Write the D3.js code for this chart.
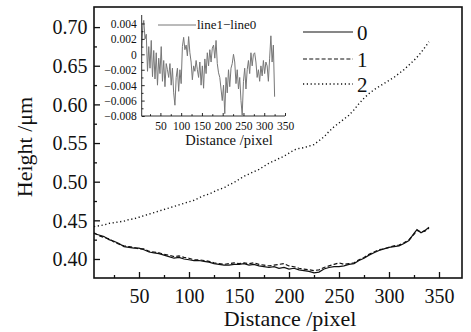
<!DOCTYPE html>
<html>
<head>
<meta charset="utf-8">
<script src="https://cdn.jsdelivr.net/npm/d3@7"></script>
<style>
  body { margin: 0; background: #fff; }
  svg { display: block; }
</style>
</head>
<body>
<div id="chart"></div>
<script>
window.addEventListener('DOMContentLoaded', () => {

    // ---- data ----
    const distance = [5, 10, 15, 20, 25, 30, 35, 40, 45, 50, 55, 60, 65, 70, 75, 80, 85, 90, 95, 100,
        105, 110, 115, 120, 125, 130, 135, 140, 145, 150, 155, 160, 165, 170, 175, 180, 185, 190, 195, 200,
        205, 210, 215, 220, 225, 230, 235, 240, 245, 250, 255, 260, 265, 270, 275, 280, 285, 290, 295, 300,
        305, 310, 315, 320, 325, 328, 332, 336, 340];

    const line0 = [0.433, 0.431, 0.429, 0.425, 0.423, 0.420, 0.416, 0.415, 0.414, 0.414, 0.412, 0.409, 0.408, 0.407, 0.405, 0.403, 0.401, 0.402, 0.400, 0.399,
        0.398, 0.398, 0.397, 0.396, 0.394, 0.393, 0.392, 0.392, 0.393, 0.393, 0.394, 0.392, 0.393, 0.391, 0.390, 0.389, 0.390, 0.388, 0.389, 0.387,
        0.388, 0.386, 0.385, 0.384, 0.382, 0.383, 0.387, 0.389, 0.390, 0.390, 0.391, 0.393, 0.394, 0.398, 0.401, 0.405, 0.408, 0.411, 0.413, 0.415,
        0.416, 0.417, 0.420, 0.424, 0.433, 0.438, 0.434, 0.437, 0.441];

    const line1 = [0.434, 0.430, 0.428, 0.426, 0.422, 0.419, 0.417, 0.416, 0.415, 0.413, 0.413, 0.410, 0.409, 0.408, 0.406, 0.405, 0.403, 0.404, 0.402, 0.401,
        0.399, 0.399, 0.398, 0.397, 0.395, 0.394, 0.393, 0.394, 0.395, 0.394, 0.395, 0.394, 0.395, 0.393, 0.392, 0.391, 0.392, 0.393, 0.394, 0.391,
        0.390, 0.388, 0.387, 0.386, 0.385, 0.386, 0.389, 0.391, 0.393, 0.395, 0.393, 0.394, 0.395, 0.399, 0.402, 0.406, 0.409, 0.412, 0.413, 0.415,
        0.417, 0.418, 0.421, 0.425, 0.432, 0.437, 0.435, 0.436, 0.440];

    const line2 = [0.442, 0.443, 0.444, 0.446, 0.447, 0.448, 0.449, 0.451, 0.452, 0.454, 0.456, 0.458, 0.460, 0.462, 0.464, 0.466, 0.468, 0.470, 0.472, 0.474,
        0.476, 0.479, 0.482, 0.484, 0.487, 0.490, 0.492, 0.496, 0.499, 0.503, 0.507, 0.510, 0.513, 0.516, 0.520, 0.524, 0.527, 0.530, 0.533, 0.537,
        0.541, 0.543, 0.544, 0.546, 0.548, 0.553, 0.558, 0.565, 0.571, 0.576, 0.581, 0.586, 0.593, 0.601, 0.608, 0.614, 0.619, 0.623, 0.627, 0.631,
        0.635, 0.640, 0.645, 0.651, 0.657, 0.661, 0.667, 0.674, 0.681];

    const seriesNames = ['0', '1', '2'];

    // inset: line1 - line0
    const insetDistance = [5, 8, 10, 13, 16, 19, 22, 25, 28, 31, 34, 37, 40, 43, 46, 49, 52, 55, 58, 61,
        64, 67, 70, 73, 76, 79, 82, 85, 88, 91, 94, 97, 100, 103, 106, 109, 112, 115, 118, 121,
        124, 127, 130, 133, 136, 139, 142, 145, 148, 151, 154, 157, 160, 163, 166, 169, 172, 175, 178, 181,
        184, 187, 190, 193, 196, 199, 202, 205, 208, 211, 214, 217, 220, 223, 226, 229, 232, 235, 238, 241,
        244, 247, 250, 253, 256, 259, 262, 265, 268, 271, 274, 277, 280, 283, 286, 289, 292, 295, 298, 301,
        304, 307, 310, 313, 316, 319, 322, 325];
    const insetDiff = [0.0010, 0.0038, 0.0044, 0.0020, 0.0026, -0.0022, 0.0010, -0.0018, 0.0018, -0.0029, 0.0005, -0.0032, 0.0002, -0.0040, -0.0005, -0.0025, 0.0010, -0.0035, -0.0008, -0.0042,
        -0.0012, -0.0020, -0.0030, -0.0012, -0.0040, -0.0018, -0.0050, -0.0066, -0.0030, -0.0018, -0.0048, -0.0020, -0.0038, 0.0010, 0.0022, 0.0006, 0.0012, -0.0002, 0.0023, 0.0002,
        -0.0010, -0.0033, -0.0015, -0.0022, -0.0008, -0.0020, -0.0030, -0.0010, -0.0040, -0.0015, -0.0044, -0.0006, -0.0025, 0.0002, -0.0015, 0.0006, -0.0010, 0.0008, 0.0012, -0.0005,
        0.0018, -0.0012, -0.0024, -0.0030, -0.0045, -0.0060, -0.0040, -0.0077, -0.0030, -0.0050, -0.0020, -0.0042, -0.0018, -0.0012, 0.0000, -0.0010, -0.0038, -0.0020, -0.0045, -0.0030,
        -0.0060, -0.0079, -0.0035, -0.0018, -0.0045, -0.0020, -0.0008, -0.0025, 0.0002, -0.0015, 0.0000, 0.0002, -0.0010, -0.0030, -0.0020, -0.0035, -0.0015, -0.0028, -0.0008, -0.0025,
        -0.0010, -0.0015, -0.0035, -0.0005, 0.0024, -0.0010, 0.0012, -0.0055];

    const xTicks = [50, 100, 150, 200, 250, 300, 350];
    const xMinor = [25, 75, 125, 175, 225, 275, 325];
    const yTicks = [0.40, 0.45, 0.50, 0.55, 0.60, 0.65, 0.70];
    const yMinor = [0.425, 0.475, 0.525, 0.575, 0.625, 0.675];
    const insetXTicks = [50, 100, 150, 200, 250, 300, 350];
    const insetXMinor = [25, 75, 125, 175, 225, 275, 325];
    const insetYTicks = [-0.008, -0.006, -0.004, -0.002, 0, 0.002, 0.004];
    const insetYMinor = [-0.007, -0.005, -0.003, -0.001, 0.001, 0.003];

    const FONT = '"Liberation Serif", "DejaVu Serif", serif';
    const width = 471;
    const height = 332;
    const plot = { left: 94, right: 462, top: 7, bottom: 278 };

    const svg = d3.select('#chart')
        .append('svg')
        .attr('width', width)
        .attr('height', height)
        .style('font-family', FONT);

    const x = d3.scaleLinear().domain([5, 373]).range([plot.left, plot.right]);
    const y = d3.scaleLinear().domain([0.3754, 0.726]).range([plot.bottom, plot.top]);

    // frame
    svg.append('rect')
        .attr('x', plot.left)
        .attr('y', plot.top)
        .attr('width', plot.right - plot.left)
        .attr('height', plot.bottom - plot.top)
        .attr('fill', 'none')
        .attr('stroke', '#111')
        .attr('stroke-width', 1.6);

    function styleAxis(g, size) {
        g.attr('font-family', null);
        g.select('.domain').remove();
        g.selectAll('line').attr('stroke', '#111').attr('stroke-width', 1.3);
        g.selectAll('text')
            .style('font-family', FONT)
            .style('font-size', size + 'px')
            .attr('fill', '#111');
    }

    // x axis
    svg.append('g')
        .attr('transform', `translate(0, ${plot.bottom})`)
        .call(d3.axisBottom(x).tickValues(xTicks).tickSize(-6).tickPadding(0).tickFormat(d3.format('d')))
        .call(g => styleAxis(g, 20))
        .call(g => g.selectAll('text').attr('dy', null).attr('y', 25));
    svg.append('g')
        .attr('transform', `translate(0, ${plot.bottom})`)
        .call(d3.axisBottom(x).tickValues(xMinor).tickSize(-3).tickFormat(''))
        .call(g => styleAxis(g, 20));

    // y axis
    svg.append('g')
        .attr('transform', `translate(${plot.left}, 0)`)
        .call(d3.axisLeft(y).tickValues(yTicks).tickSize(-6).tickPadding(6.5).tickFormat(d3.format('.2f')))
        .call(g => styleAxis(g, 20))
        .call(g => g.selectAll('text').attr('dy', '0.34em'));
    svg.append('g')
        .attr('transform', `translate(${plot.left}, 0)`)
        .call(d3.axisLeft(y).tickValues(yMinor).tickSize(-3).tickFormat(''))
        .call(g => styleAxis(g, 20));

    // axis titles
    svg.append('text')
        .attr('x', 290)
        .attr('y', 326)
        .attr('text-anchor', 'middle')
        .style('font-family', FONT)
        .style('font-size', '22px')
        .attr('fill', '#111')
        .text('Distance /pixel');

    svg.append('text')
        .attr('transform', `translate(32, 147) rotate(-90)`)
        .attr('text-anchor', 'middle')
        .style('font-family', FONT)
        .style('font-size', '22px')
        .attr('fill', '#111')
        .text('Height /μm');

    // series
    const dashes = [null, '4,2.2', '1.2,2.6'];
    const allSeries = [line0, line1, line2];

    const line = d3.line()
        .x(d => x(d[0]))
        .y(d => y(d[1]));

    allSeries.forEach((vals, i) => {
        svg.append('path')
            .datum(distance.map((dx, j) => [dx, vals[j]]))
            .attr('fill', 'none')
            .attr('stroke', '#111')
            .attr('stroke-width', i === 2 ? 1.4 : 1.2)
            .attr('stroke-dasharray', dashes[i])
            .attr('d', line);
    });

    // legend
    const legendY = [32, 59, 84];
    seriesNames.forEach((name, i) => {
        svg.append('line')
            .attr('x1', 303).attr('x2', 353)
            .attr('y1', legendY[i]).attr('y2', legendY[i])
            .attr('stroke', '#111')
            .attr('stroke-width', i === 2 ? 1.4 : 1.2)
            .attr('stroke-dasharray', dashes[i]);
        svg.append('text')
            .attr('x', 357)
            .attr('y', legendY[i] + 8)
            .style('font-family', FONT)
            .style('font-size', '21px')
            .attr('fill', '#111')
            .text(name);
    });

    // ---- inset ----
    const inset = { left: 141.7, right: 285, top: 15, bottom: 116 };
    const xi = d3.scaleLinear().domain([5, 350]).range([inset.left, inset.right]);
    const yi = d3.scaleLinear().domain([-0.008, 0.0051]).range([inset.bottom, inset.top]);

    const insetG = svg.append('g');

    insetG.append('path')
        .datum(insetDistance.map((dx, j) => [dx, insetDiff[j]]))
        .attr('fill', 'none')
        .attr('stroke', '#777')
        .attr('stroke-width', 1)
        .attr('d', d3.line().x(d => xi(d[0])).y(d => yi(d[1])));

    insetG.append('line')
        .attr('x1', inset.left).attr('x2', inset.left)
        .attr('y1', inset.top).attr('y2', inset.bottom)
        .attr('stroke', '#333').attr('stroke-width', 1);
    insetG.append('line')
        .attr('x1', inset.left).attr('x2', inset.right)
        .attr('y1', inset.bottom).attr('y2', inset.bottom)
        .attr('stroke', '#333').attr('stroke-width', 1);

    const fmtInset = d => d === 0 ? '0' : d3.format('.3f')(d).replace('-', '−');

    insetG.append('g')
        .attr('transform', `translate(0, ${inset.bottom})`)
        .call(d3.axisBottom(xi).tickValues(insetXTicks).tickSize(-3).tickPadding(0).tickFormat(d3.format('d')))
        .call(g => styleAxis(g, 11.5))
        .call(g => g.selectAll('line').attr('stroke-width', 0.9))
        .call(g => g.selectAll('text').attr('dy', null).attr('y', 14));
    insetG.append('g')
        .attr('transform', `translate(0, ${inset.bottom})`)
        .call(d3.axisBottom(xi).tickValues(insetXMinor).tickSize(-1.8).tickFormat(''))
        .call(g => styleAxis(g, 11.5))
        .call(g => g.selectAll('line').attr('stroke-width', 0.9));

    insetG.append('g')
        .attr('transform', `translate(${inset.left}, 0)`)
        .call(d3.axisLeft(yi).tickValues(insetYTicks).tickSize(-3).tickPadding(5).tickFormat(fmtInset))
        .call(g => styleAxis(g, 11.5))
        .call(g => g.selectAll('line').attr('stroke-width', 0.9))
        .call(g => g.selectAll('text').attr('dy', '0.34em'));
    insetG.append('g')
        .attr('transform', `translate(${inset.left}, 0)`)
        .call(d3.axisLeft(yi).tickValues(insetYMinor).tickSize(-1.8).tickFormat(''))
        .call(g => styleAxis(g, 11.5))
        .call(g => g.selectAll('line').attr('stroke-width', 0.9));

    insetG.append('text')
        .attr('x', 229)
        .attr('y', 145)
        .attr('text-anchor', 'middle')
        .style('font-family', FONT)
        .style('font-size', '14.5px')
        .attr('fill', '#111')
        .text('Distance /pixel');

    // inset legend
    insetG.append('line')
        .attr('x1', 158).attr('x2', 196)
        .attr('y1', 25).attr('y2', 25)
        .attr('stroke', '#777').attr('stroke-width', 1);
    insetG.append('text')
        .attr('x', 197)
        .attr('y', 29)
        .style('font-family', FONT)
        .style('font-size', '13px')
        .attr('fill', '#111')
        .text('line1−line0');

});
</script>
</body>
</html>
